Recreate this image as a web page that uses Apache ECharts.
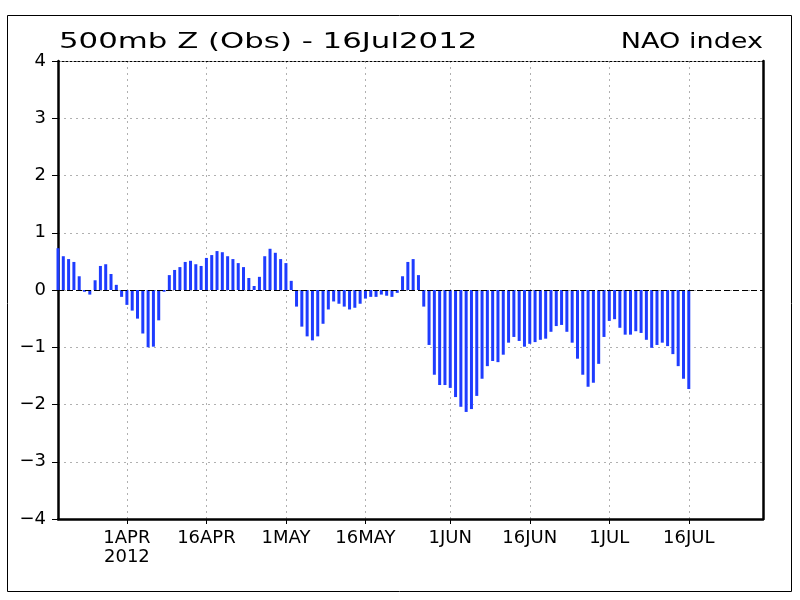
<!DOCTYPE html>
<html>
<head>
<meta charset="utf-8">
<script src="https://cdn.jsdelivr.net/npm/echarts@6/dist/echarts.min.js"></script>
<style>html,body{margin:0;padding:0;background:#fff;}#chart{width:800px;height:600px;}</style>
</head>
<body>
<div id="chart"></div>
<script>
// Daily categories: 19 Mar 2012 .. 30 Jul 2012
var startDate = '2012-03-19';
var endDate = '2012-07-30';
var monthNames = ['JAN','FEB','MAR','APR','MAY','JUN','JUL','AUG','SEP','OCT','NOV','DEC'];
var categories = [];
(function () {
  var d = new Date(startDate + 'T00:00:00Z');
  var e = new Date(endDate + 'T00:00:00Z');
  while (d <= e) {
    categories.push(d.toISOString().slice(0, 10));
    d = new Date(d.getTime() + 86400000);
  }
})();

// NAO index, daily from 19 Mar 2012 to 16 Jul 2012
var naoValues = [
  0.73, 0.59, 0.54, 0.49, 0.24, -0.03, -0.08, 0.17, 0.42, 0.45, 0.28, 0.09,
  -0.12, -0.26, -0.36, -0.50, -0.76, -1.00, -0.99, -0.53, -0.03, 0.26, 0.35, 0.40,
  0.49, 0.51, 0.45, 0.42, 0.56, 0.61, 0.68, 0.66, 0.59, 0.54, 0.47, 0.40,
  0.21, 0.07, 0.23, 0.59, 0.72, 0.65, 0.54, 0.47, 0.16, -0.29,
  -0.64, -0.81, -0.88, -0.81, -0.59, -0.34, -0.20, -0.24, -0.29, -0.34, -0.31, -0.24,
  -0.15, -0.12, -0.12, -0.08, -0.10, -0.12, -0.05, 0.24, 0.49, 0.54, 0.26,
  -0.29, -0.96, -1.48, -1.66, -1.66, -1.71, -1.87, -2.04, -2.13, -2.08, -1.85, -1.55,
  -1.33, -1.24, -1.26, -1.13, -0.92, -0.82, -0.89, -0.99, -0.94, -0.91, -0.87, -0.85,
  -0.73, -0.63, -0.61, -0.73, -0.92, -1.20, -1.48, -1.69, -1.62, -1.29,
  -0.82, -0.54, -0.51, -0.66, -0.78, -0.78, -0.72, -0.75, -0.87, -1.01,
  -0.96, -0.92, -0.98, -1.12, -1.33, -1.55, -1.73
];

var yTicks = [-4, -3, -2, -1, 0, 1, 2, 3, 4];
var tickDays = [1, 16];
var titleLeft = '500mb Z (Obs) - 16Jul2012';
var titleRight = 'NAO index';

function isTick(index, value) {
  var day = parseInt(value.slice(8, 10), 10);
  return tickDays.indexOf(day) >= 0;
}
function fmtDate(value) {
  var day = parseInt(value.slice(8, 10), 10);
  var m = parseInt(value.slice(5, 7), 10) - 1;
  var s = day + monthNames[m];
  if (value === '2012-04-01') s += '\n' + value.slice(0, 4);
  return s;
}

var FONT = 'DejaVu Sans';
var chart = echarts.init(document.getElementById('chart'), null, {renderer: 'canvas'});
chart.setOption({
  animation: false,
  backgroundColor: '#fff',
  graphic: [
    {type: 'rect', shape: {x: 7.5, y: 15.5, width: 784, height: 576},
     style: {fill: 'none', stroke: '#000', lineWidth: 1}, silent: true, z: 100},
    {type: 'text', x: 59, y: 42, scaleX: 1.4, silent: true, z: 100,
     style: {text: titleLeft, font: 'normal 22px "DejaVu Sans"', fill: '#000',
             align: 'left', verticalAlign: 'middle'}},
    {type: 'text', x: 763, y: 42, scaleX: 1.23, silent: true, z: 100,
     style: {text: titleRight, font: 'normal 22px "DejaVu Sans"', fill: '#000',
             align: 'right', verticalAlign: 'middle'}}
  ],
  grid: {left: 58, right: 37, top: 61, bottom: 81, containLabel: false},
  xAxis: [
    {
      type: 'category', data: categories, boundaryGap: false,
      axisLine: {show: true, onZero: false, lineStyle: {color: '#000', width: 2.5}},
      axisTick: {show: true, interval: isTick, length: 5, lineStyle: {color: '#000', width: 1}},
      axisLabel: {show: true, interval: isTick, formatter: fmtDate, color: '#000',
                  fontFamily: FONT, fontSize: 18, margin: 10, lineHeight: 19},
      splitLine: {show: true, interval: isTick, lineStyle: {color: '#b0b0b0', type: [2, 4], width: 1}}
    },
    {
      type: 'category', data: categories, boundaryGap: false, position: 'top',
      axisLine: {show: true, onZero: false, lineStyle: {color: '#000', type: [2, 2], width: 1}},
      axisTick: {show: false}, axisLabel: {show: false}, splitLine: {show: false}
    }
  ],
  yAxis: [
    {
      type: 'value', min: -4, max: 4, interval: 1,
      axisLine: {show: true, onZero: false, lineStyle: {color: '#000', width: 2.5}},
      axisTick: {show: true, length: 6, lineStyle: {color: '#000', width: 1}},
      axisLabel: {color: '#000', fontFamily: FONT, fontSize: 18, margin: 12,
                  formatter: function (v) { return v < 0 ? '\u2212' + Math.abs(v) : String(v); }},
      splitLine: {show: true, lineStyle: {color: '#b0b0b0', type: [2, 4], width: 1}}
    },
    {
      type: 'value', min: -4, max: 4, interval: 1, position: 'right',
      axisLine: {show: true, onZero: false, lineStyle: {color: '#000', width: 2.5}},
      axisTick: {show: false}, axisLabel: {show: false}, splitLine: {show: false}
    }
  ],
  series: [
    {
      type: 'bar', name: 'NAO index', data: naoValues, xAxisIndex: 0, yAxisIndex: 0,
      barWidth: 3, itemStyle: {color: '#1e3cff'},
      markLine: {
        silent: true, symbol: 'none', label: {show: false},
        lineStyle: {color: '#000', type: [6, 3], width: 1.2},
        data: [{yAxis: 0}]
      }
    }
  ]
});
</script>
</body>
</html>
